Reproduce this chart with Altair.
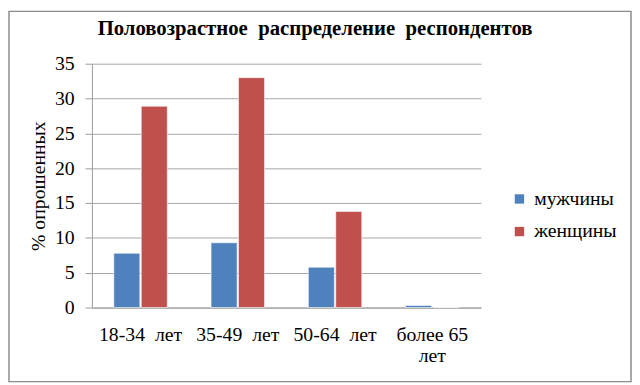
import altair as alt
import pandas as pd

categories = ["18-34 лет", "35-49 лет", "50-64 лет", "более 65 лет"]
series = ["мужчины", "женщины"]
men = [7.8, 9.3, 5.8, 0.3]
women = [28.9, 33.0, 13.8, 0.0]
colors = ["#4F81BD", "#C0504D"]
y_ticks = [0, 5, 10, 15, 20, 25, 30, 35]
title_text = ["Половозрастное\u00a0 распределение\u00a0 респондентов"]

rows = []
for c, m, w in zip(categories, men, women):
    rows.append({"cat": c, "sex": series[0], "val": m})
    rows.append({"cat": c, "sex": series[1], "val": w})
df = pd.DataFrame(rows)

FONT = "Liberation Serif"
W, H = 394, 247
PL, PT = 85, 54
TOTW, TOTH = 632, 377

label_expr = ("datum.value == 'более 65 лет' ? ['более 65', 'лет'] : "
              "replace(datum.value, ' ', '\u00a0 ')")

bars = alt.Chart(df).mark_bar(stroke="white", strokeWidth=0.6).encode(
    x=alt.X("cat:N", sort=categories, title=None,
            scale=alt.Scale(paddingInner=0.45, paddingOuter=0.225),
            axis=alt.Axis(labelAngle=0, ticks=False, domainColor="#9a9a9a",
                          labelFontSize=20, labelFont=FONT, labelColor="black",
                          labelPadding=17, labelLineHeight=22,
                          labelExpr=label_expr)),
    xOffset=alt.XOffset("sex:N", sort=series, scale=alt.Scale(paddingInner=0.05)),
    y=alt.Y("val:Q", title="% опрошенных",
            scale=alt.Scale(domain=[0, 35], nice=False),
            axis=alt.Axis(values=y_ticks, grid=True, gridColor="#a6a6a6",
                          domainColor="#9a9a9a", tickColor="#9a9a9a", tickSize=7,
                          labelFontSize=20, labelFont=FONT, labelColor="black",
                          labelPadding=11,
                          titleFontSize=20, titleFont=FONT, titleFontWeight="normal",
                          titleColor="black", titlePadding=6)),
    color=alt.Color("sex:N", sort=series,
                    scale=alt.Scale(domain=series, range=colors),
                    legend=alt.Legend(title=None, orient="none", legendX=423, legendY=127,
                                      symbolType="square", symbolSize=90,
                                      symbolStrokeWidth=0,
                                      labelFontSize=20, labelFont=FONT, labelColor="black",
                                      rowPadding=13, labelOffset=5)),
)

title = alt.Chart(pd.DataFrame({"t": title_text})).mark_text(
    font=FONT, fontSize=21, fontWeight="bold", color="black",
    align="center", baseline="middle"
).encode(text="t:N", x=alt.value(226), y=alt.value(-35))

border = alt.Chart(pd.DataFrame({"a": [0]})).mark_rect(
    fill=None, stroke="#8c8c8c", strokeWidth=1.5
).encode(
    x=alt.value(-PL + 1), x2=alt.value(TOTW - PL - 1),
    y=alt.value(-PT + 1), y2=alt.value(TOTH - PT - 1),
)

chart = alt.layer(bars, title, border).properties(
    width=W, height=H,
    padding={"left": PL, "top": PT, "right": TOTW - PL - W, "bottom": TOTH - PT - H},
    autosize=alt.AutoSizeParams(type="none"),
    background="white",
).configure(font=FONT).configure_view(stroke=None)

chart.save("out.html", embed_options={"renderer": "svg", "actions": False})
